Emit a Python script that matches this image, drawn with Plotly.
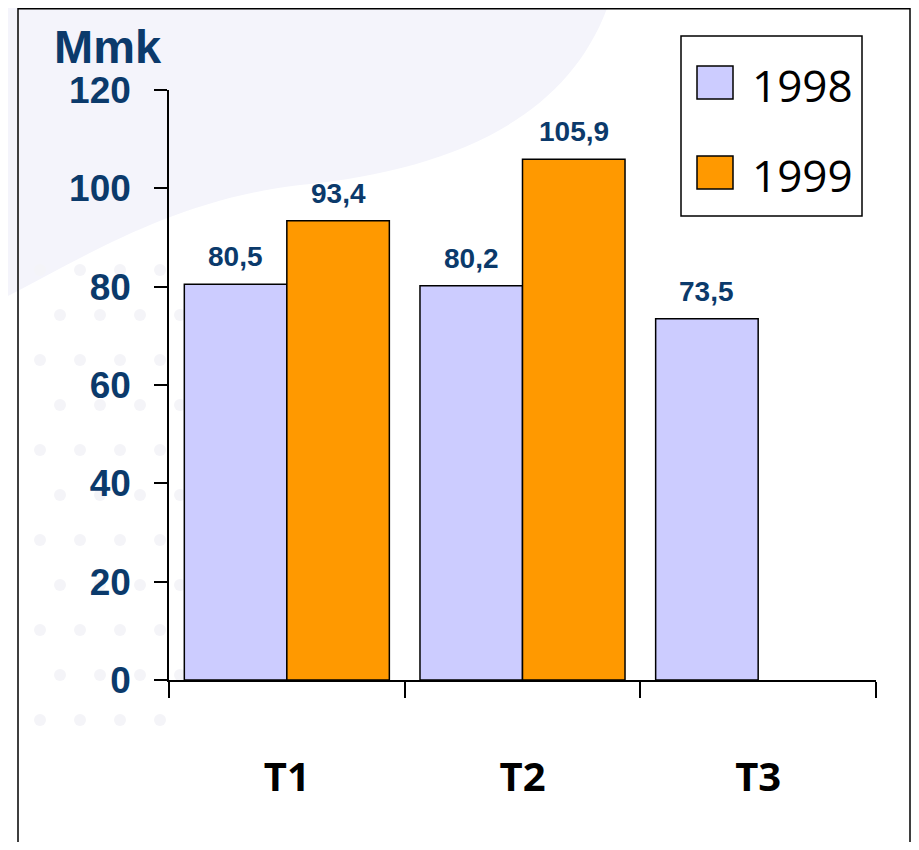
import plotly.graph_objects as go

###############################################################################
# data

categories = ["T1", "T2", "T3"]
years = ["1998", "1999"]
values_1998 = [80.5, 80.2, 73.5]
values_1999 = [93.4, 105.9, None]
y_ticks = [0, 20, 40, 60, 80, 100, 120]
unit_label = "Mmk"

colors = {"1998": "#CCCCFF", "1999": "#FF9900"}
navy = "#0B3A6B"

###############################################################################
# figure geometry (pixels) -- page body adds an 8px margin on every side

OFF = 8
W, H = 919 - 2 * OFF, 850 - 2 * OFF
L, T = 169 - OFF, 90 - OFF
R = W - (876 - OFF)
B = H - (680 - OFF)
PW, PH = W - L - R, H - T - B
bargap = 0.13


# helpers: screen pixel -> paper coords
def px_x(x):
    return (x - OFF - L) / PW


def px_y(y):
    return (H - B - (y - OFF)) / PH


fig = go.Figure()

for year, vals in zip(years, [values_1998, values_1999]):
    fig.add_trace(go.Bar(
        x=categories, y=vals, name=year,
        marker=dict(color=colors[year], line=dict(color="black", width=1.5)),
        showlegend=False,
        hoverinfo="skip",
    ))

# data labels above bars (comma decimal)
bar_w = PW / len(categories) * (1 - bargap) / len(years)
annotations = []
for i, (year, vals) in enumerate(zip(years, [values_1998, values_1999])):
    shift = (i - (len(years) - 1) / 2) * bar_w
    for cat, v in zip(categories, vals):
        if v is None:
            continue
        annotations.append(dict(
            x=cat, y=v, xref="x", yref="y", text=f"{v:.1f}".replace(".", ","),
            showarrow=False, xshift=shift, yshift=10, yanchor="bottom",
            font=dict(family="Liberation Sans", size=28, color=navy, weight="bold"),
        ))

# unit label
annotations.append(dict(
    x=px_x(108), y=px_y(47), xref="paper", yref="paper", text=unit_label,
    showarrow=False, xanchor="center", yanchor="middle",
    font=dict(family="Liberation Sans", size=47, color=navy, weight="bold"),
))

shapes = []
# faint background decoration
shapes.append(dict(
    type="path", xref="paper", yref="paper", layer="below",
    path="M {} {} L {} {} C {} {} {} {} {} {} C {} {} {} {} {} {} Z".format(
        px_x(0), px_y(0), px_x(610), px_y(0),
        px_x(570), px_y(120), px_x(450), px_y(170), px_x(300), px_y(185),
        px_x(170), px_y(200), px_x(80), px_y(260), px_x(0), px_y(300)),
    fillcolor="#F4F4FB", line=dict(width=0),
))
for row in range(11):
    for col in range(4):
        cx = 40 + col * 40 + (row % 2) * 20
        cy = 270 + row * 45
        shapes.append(dict(
            type="circle", xref="paper", yref="paper", layer="below",
            x0=px_x(cx - 6), x1=px_x(cx + 6), y0=px_y(cy - 6), y1=px_y(cy + 6),
            fillcolor="#F4F4F8", line=dict(width=0),
        ))

# outer frame (right edge pulled in to stay inside the figure)
shapes.append(dict(
    type="rect", xref="paper", yref="paper",
    x0=px_x(18), x1=px_x(OFF + W - 1), y0=px_y(870), y1=px_y(8.75),
    line=dict(color="black", width=1.5), fillcolor="rgba(0,0,0,0)",
))
# hand made legend (big swatches)
shapes.append(dict(
    type="rect", xref="paper", yref="paper",
    x0=px_x(681), x1=px_x(862), y0=px_y(216), y1=px_y(36),
    line=dict(color="black", width=1.5), fillcolor="white",
))
for year, top in zip(years, [66, 156]):
    shapes.append(dict(
        type="rect", xref="paper", yref="paper",
        x0=px_x(697), x1=px_x(733), y0=px_y(top + 33), y1=px_y(top),
        line=dict(color="black", width=1.5), fillcolor=colors[year],
    ))
    annotations.append(dict(
        x=px_x(750), y=px_y(top + 19), xref="paper", yref="paper", text=year,
        showarrow=False, xanchor="left", yanchor="middle",
        font=dict(family="Open Sans", size=44, color="black", weight=500),
    ))

fig.update_layout(
    width=W, height=H,
    margin=dict(l=L, r=R, t=T, b=B, pad=0),
    paper_bgcolor="white",
    plot_bgcolor="rgba(0,0,0,0)",
    barmode="group",
    bargap=bargap,
    bargroupgap=0,
    annotations=annotations,
    shapes=shapes,
)

fig.update_xaxes(
    showline=True, linecolor="black", linewidth=1.5,
    ticks="outside", ticklen=16, tickcolor="black", tickwidth=1.5,
    tickson="boundaries", showgrid=False,
    ticklabelstandoff=61,
    tickfont=dict(family="Open Sans", size=40, color="black", weight="bold"),
)
fig.update_yaxes(
    range=[0, 120], tickvals=y_ticks,
    showline=True, linecolor="black", linewidth=1.5,
    ticks="outside", ticklen=13, tickcolor="black", tickwidth=1.5,
    showgrid=False, zeroline=False,
    ticklabelstandoff=16,
    tickfont=dict(family="Liberation Sans", size=37, color=navy, weight="bold"),
)

fig.write_html("out.html")
